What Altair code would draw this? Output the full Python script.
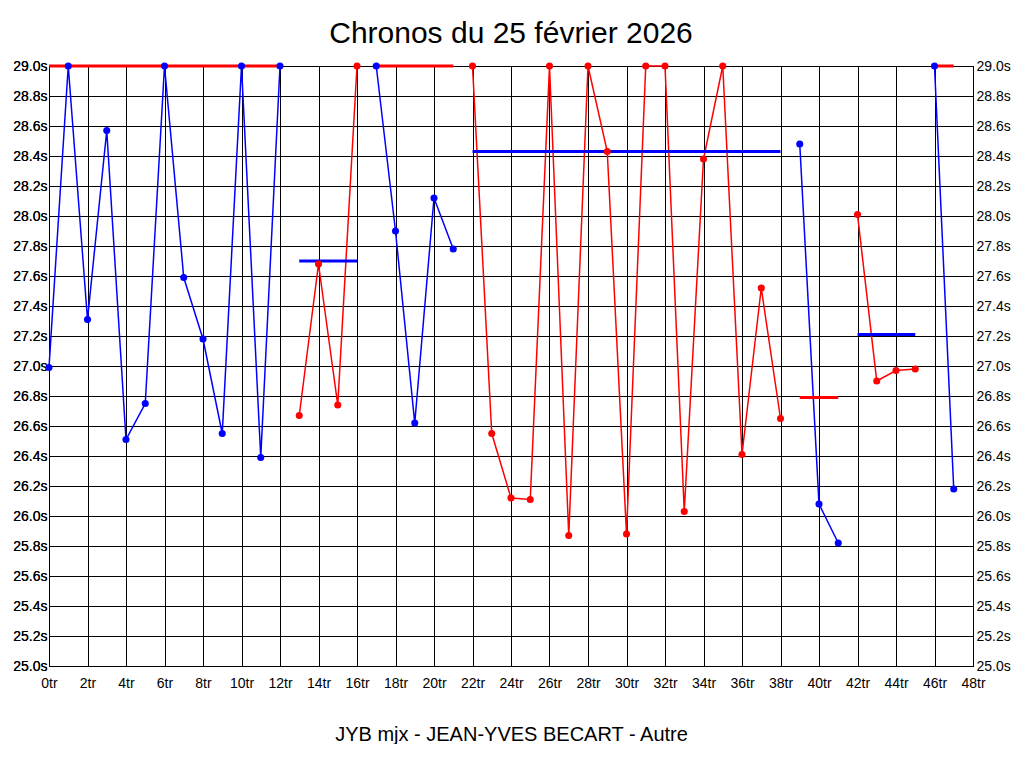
import altair as alt
import pandas as pd

# Lap numbers and lap times (seconds); 29.0 = clipped at top
laps = list(range(48))
times = [26.99, 29.0, 27.31, 28.57, 26.51, 26.75, 29.0, 27.59, 27.18, 26.55,
         29.0, 26.39, 29.0,
         26.67, 27.68, 26.74, 29.0,
         29.0, 27.90, 26.62, 28.12, 27.78,
         29.0, 26.55, 26.12, 26.11, 29.0, 25.87, 29.0, 28.43, 25.88, 29.0,
         29.0, 26.03, 28.38, 29.0, 26.41, 27.52, 26.65,
         28.48, 26.08, 25.82,
         28.01, 26.90, 26.97, 26.98,
         29.0, 26.18]

# Stints (relays): first lap, last lap, line colour, average line value & colour
stint_start = [0, 13, 17, 22, 39, 42, 46]
stint_end = [12, 16, 21, 38, 41, 45, 47]
stint_color = ["blue", "red", "blue", "red", "blue", "red", "blue"]
stint_avg = [29.0, 27.70, 29.0, 28.43, 26.79, 27.21, 29.0]
avg_color = ["red", "blue", "red", "blue", "red", "blue", "red"]

stint_of = []
color_of = []
for i, (s, e) in enumerate(zip(stint_start, stint_end)):
    for lap in range(s, e + 1):
        stint_of.append(i)
        color_of.append(stint_color[i])

df = pd.DataFrame({"lap": laps, "time": times, "stint": stint_of, "col": color_of})
avg_df = pd.DataFrame({"start": stint_start, "end": stint_end,
                       "avg": stint_avg, "col": avg_color})

FONT = "Liberation Sans"
LFS = 14
cscale = alt.Scale(domain=["blue", "red"], range=["#0000ff", "#ff0000"])
xscale = alt.Scale(domain=[0, 48], nice=False, zero=False)
yscale = alt.Scale(domain=[25.0, 29.0], nice=False, zero=False)

x_vals = list(range(0, 49, 2))
x_axis = alt.Axis(values=x_vals, tickCount=25, labelExpr="datum.value + 'tr'",
                  title="JYB mjx - JEAN-YVES BECART - Autre", titleFont=FONT,
                  titleFontSize=20, titleFontWeight="normal", titleColor="black",
                  titlePadding=34, labelFont=FONT, labelFontSize=LFS,
                  labelColor="black", ticks=False, labelPadding=10,
                  grid=True, gridColor="black", gridOpacity=1, gridWidth=1,
                  domain=False, labelFlush=False, labelOverlap=False)
y_vals = [round(25.0 + 0.2 * k, 1) for k in range(21)]
y_left = alt.Axis(values=y_vals, labelExpr="format(datum.value, '.1f') + 's'",
                  title=None, labelFont=FONT, labelFontSize=LFS, labelColor="black",
                  ticks=False, labelPadding=2, grid=True, gridColor="black",
                  gridOpacity=1, gridWidth=1, domain=False, labelFlush=False,
                  labelOverlap=False)
y_right = alt.Axis(values=y_vals, labelExpr="format(datum.value, '.1f') + 's'",
                   title=None, orient="right", labelFont=FONT, labelFontSize=LFS,
                   labelColor="black", ticks=False, labelPadding=3, grid=False,
                   domain=False, labelFlush=False, labelOverlap=False)

base = alt.Chart(df)
lines = base.mark_line(strokeWidth=1.5).encode(
    x=alt.X("lap:Q", scale=xscale, axis=x_axis),
    y=alt.Y("time:Q", scale=yscale, axis=y_left),
    color=alt.Color("col:N", scale=cscale, legend=None),
    detail="stint:N",
)
points = base.mark_circle(size=50, opacity=1).encode(
    x=alt.X("lap:Q", scale=xscale, axis=x_axis),
    y=alt.Y("time:Q", scale=yscale, axis=y_left),
    color=alt.Color("col:N", scale=cscale, legend=None),
)
avgs = alt.Chart(avg_df).mark_rule(strokeWidth=3).encode(
    x=alt.X("start:Q", scale=xscale, axis=x_axis),
    x2="end:Q",
    y=alt.Y("avg:Q", scale=yscale, axis=y_right),
    color=alt.Color("col:N", scale=cscale, legend=None),
)

chart = alt.layer(lines, avgs, points).resolve_axis(y="independent").properties(
    width=924, height=600,
    title=alt.TitleParams("Chronos du 25 février 2026", font=FONT, fontSize=30,
                          fontWeight="normal", color="black", offset=10),
    padding={"left": 4, "top": 11, "right": 0, "bottom": 0},
    background="white",
).configure_view(stroke="black", strokeWidth=1)

chart.save("out.html", embed_options={"renderer": "svg", "actions": False})
